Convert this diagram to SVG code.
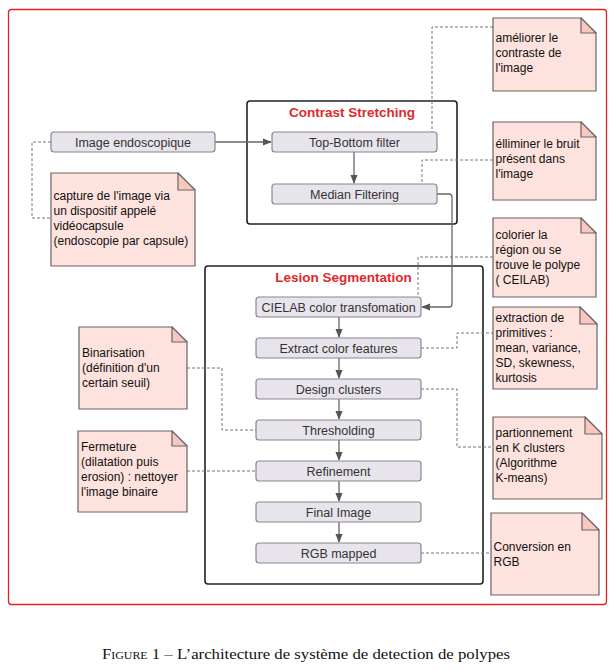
<svg xmlns="http://www.w3.org/2000/svg" width="616" height="670" viewBox="0 0 616 670">
  <style>
    .frame { fill: none; stroke: #e02424; stroke-width: 1.3; }
    .group { fill: #ffffff; stroke: #222222; stroke-width: 1.6; }
    .gtitle { font-family: "Liberation Sans", Arial, sans-serif; font-size: 13.5px; font-weight: bold; fill: #e0282c; text-anchor: middle; }
    .node rect { fill: #e8e4ec; stroke: #8a8690; stroke-width: 1.2; }
    .node text { font-family: "Liberation Sans", Arial, sans-serif; font-size: 12.5px; fill: #333333; text-anchor: middle; }
    .note .body { fill: #fde2de; stroke: #6c6464; stroke-width: 1.2; }
    .note .fold { fill: #f8c8c0; stroke: #6c6464; stroke-width: 1.2; stroke-linejoin: round; }
    .note text { font-family: "Liberation Sans", Arial, sans-serif; font-size: 12px; fill: #111111; }
    .flow { fill: none; stroke: #666666; stroke-width: 1.3; }
    .dash { fill: none; stroke: #777777; stroke-width: 1; stroke-dasharray: 3 2; }
    .caption { font-family: "Liberation Serif", "Times New Roman", serif; font-size: 15.5px; fill: #111111; }
  </style>
  <defs>
    <marker id="arrow" viewBox="0 0 10 10" refX="9" refY="5" markerWidth="9" markerHeight="9" markerUnits="userSpaceOnUse" orient="auto">
      <path d="M0,1 L10,5 L0,9 Z" fill="#555555"/>
    </marker>
  </defs>

  <!-- outer frame -->
  <rect class="frame" x="8.5" y="9.5" width="598" height="595" rx="3"/>

  <!-- processing stages -->
  <g id="contrast-stretching">
    <rect class="group" x="247" y="101" width="210" height="123" rx="3"/>
    <text class="gtitle" x="352" y="117">Contrast Stretching</text>
  </g>
  <g id="lesion-segmentation">
    <rect class="group" x="205" y="266" width="278" height="318" rx="3"/>
    <text class="gtitle" x="343.5" y="282">Lesion Segmentation</text>
  </g>

  <!-- connectors -->
  <g id="connectors">
    <path class="flow" d="M215,142 H271" marker-end="url(#arrow)"/>
    <path class="flow" d="M354,152 V183" marker-end="url(#arrow)"/>
    <path class="flow" d="M437,194 H449 Q452,194 452,197 V304 Q452,307 449,307 H422" marker-end="url(#arrow)"/>
    <path class="flow" d="M339,317 V337" marker-end="url(#arrow)"/>
    <path class="flow" d="M339,358 V378" marker-end="url(#arrow)"/>
    <path class="flow" d="M339,399 V419" marker-end="url(#arrow)"/>
    <path class="flow" d="M339,440 V460" marker-end="url(#arrow)"/>
    <path class="flow" d="M339,481 V501" marker-end="url(#arrow)"/>
    <path class="flow" d="M339,522 V542" marker-end="url(#arrow)"/>

    <path class="dash" d="M493,27 H432 V132"/>
    <path class="dash" d="M493,160 H422 V184"/>
    <path class="dash" d="M493,257 H418 V297"/>
    <path class="dash" d="M51,142 H32 V218 H51"/>
    <path class="dash" d="M187,368 H222 V430 H256"/>
    <path class="dash" d="M187,471 H256"/>
    <path class="dash" d="M421,348 H457 V333 H493"/>
    <path class="dash" d="M421,389 H457 V447 H493"/>
    <path class="dash" d="M421,553 H491"/>
  </g>

  <!-- nodes -->
  <g id="image-endoscopique" class="node">
    <rect x="51" y="132" width="164" height="20" rx="3"/>
    <text x="133" y="146.5">Image endoscopique</text>
  </g>
  <g id="top-bottom-filter" class="node">
    <rect x="272" y="132" width="165" height="20" rx="3"/>
    <text x="354.5" y="146.5">Top-Bottom filter</text>
  </g>
  <g id="median-filtering" class="node">
    <rect x="272" y="184" width="165" height="20" rx="3"/>
    <text x="354.5" y="198.5">Median Filtering</text>
  </g>
  <g id="cielab" class="node">
    <rect x="256" y="297" width="165" height="20" rx="3"/>
    <text x="338.5" y="311.5">CIELAB color transfomation</text>
  </g>
  <g id="extract-features" class="node">
    <rect x="256" y="338" width="165" height="20" rx="3"/>
    <text x="338.5" y="352.5">Extract color features</text>
  </g>
  <g id="design-clusters" class="node">
    <rect x="256" y="379" width="165" height="20" rx="3"/>
    <text x="338.5" y="393.5">Design clusters</text>
  </g>
  <g id="thresholding" class="node">
    <rect x="256" y="420" width="165" height="20" rx="3"/>
    <text x="338.5" y="434.5">Thresholding</text>
  </g>
  <g id="refinement" class="node">
    <rect x="256" y="461" width="165" height="20" rx="3"/>
    <text x="338.5" y="475.5">Refinement</text>
  </g>
  <g id="final-image" class="node">
    <rect x="256" y="502" width="165" height="20" rx="3"/>
    <text x="338.5" y="516.5">Final Image</text>
  </g>
  <g id="rgb-mapped" class="node">
    <rect x="256" y="543" width="165" height="20" rx="3"/>
    <text x="338.5" y="557.5">RGB mapped</text>
  </g>

  <!-- notes -->
  <g id="note-contraste" class="note">
    <path class="body" d="M493,18 H581 L596,33 V91 H493 Z"/>
    <path class="fold" d="M581,18 V33 H596 Z"/>
    <text x="495.5"><tspan x="495.5" y="42">améliorer le</tspan><tspan x="495.5" y="57">contraste de</tspan><tspan x="495.5" y="72">l'image</tspan></text>
  </g>
  <g id="note-bruit" class="note">
    <path class="body" d="M493,122 H581 L596,137 V200 H493 Z"/>
    <path class="fold" d="M581,122 V137 H596 Z"/>
    <text x="495.5"><tspan x="495.5" y="148">élliminer le bruit</tspan><tspan x="495.5" y="163">présent dans</tspan><tspan x="495.5" y="178">l'image</tspan></text>
  </g>
  <g id="note-cielab" class="note">
    <path class="body" d="M493,218 H581 L596,233 V297 H493 Z"/>
    <path class="fold" d="M581,218 V233 H596 Z"/>
    <text x="495.5"><tspan x="495.5" y="239">colorier la</tspan><tspan x="495.5" y="254">région ou se</tspan><tspan x="495.5" y="269">trouve le polype</tspan><tspan x="495.5" y="284">( CEILAB)</tspan></text>
  </g>
  <g id="note-capture" class="note">
    <path class="body" d="M51,173 H178 L195,190 V266 H51 Z"/>
    <path class="fold" d="M178,173 V190 H195 Z"/>
    <text x="53.5"><tspan x="53.5" y="200">capture de l'image via</tspan><tspan x="53.5" y="215">un dispositif appelé</tspan><tspan x="53.5" y="230">vidéocapsule</tspan><tspan x="53.5" y="245">(endoscopie par capsule)</tspan></text>
  </g>
  <g id="note-binarisation" class="note">
    <path class="body" d="M79,327 H172 L187,342 V409 H79 Z"/>
    <path class="fold" d="M172,327 V342 H187 Z"/>
    <text x="82"><tspan x="82" y="357">Binarisation</tspan><tspan x="82" y="372">(définition d'un</tspan><tspan x="82" y="387">certain seuil)</tspan></text>
  </g>
  <g id="note-fermeture" class="note">
    <path class="body" d="M78,431 H172 L187,446 V512 H78 Z"/>
    <path class="fold" d="M172,431 V446 H187 Z"/>
    <text x="81"><tspan x="81" y="451">Fermeture</tspan><tspan x="81" y="466">(dilatation puis</tspan><tspan x="81" y="481">erosion) : nettoyer</tspan><tspan x="81" y="496">l'image binaire</tspan></text>
  </g>
  <g id="note-primitives" class="note">
    <path class="body" d="M493,307 H580 L597,324 V389 H493 Z"/>
    <path class="fold" d="M580,307 V324 H597 Z"/>
    <text x="495.5"><tspan x="495.5" y="322">extraction de</tspan><tspan x="495.5" y="337">primitives :</tspan><tspan x="495.5" y="352">mean, variance,</tspan><tspan x="495.5" y="367">SD, skewness,</tspan><tspan x="495.5" y="382">kurtosis</tspan></text>
  </g>
  <g id="note-clusters" class="note">
    <path class="body" d="M493,417 H585 L602,434 V499 H493 Z"/>
    <path class="fold" d="M585,417 V434 H602 Z"/>
    <text x="495.5"><tspan x="495.5" y="437">partionnement</tspan><tspan x="495.5" y="452">en K clusters</tspan><tspan x="495.5" y="467">(Algorithme</tspan><tspan x="495.5" y="482">K-means)</tspan></text>
  </g>
  <g id="note-rgb" class="note">
    <path class="body" d="M491,513 H582 L599,530 V595 H491 Z"/>
    <path class="fold" d="M582,513 V530 H599 Z"/>
    <text x="493.5"><tspan x="493.5" y="551">Conversion en</tspan><tspan x="493.5" y="566">RGB</tspan></text>
  </g>

  <!-- caption -->
  <text class="caption" x="102" y="659" textLength="408" lengthAdjust="spacingAndGlyphs"><tspan font-variant="small-caps">Figure</tspan> 1 – L’architecture de système de detection de polypes</text>
</svg>
